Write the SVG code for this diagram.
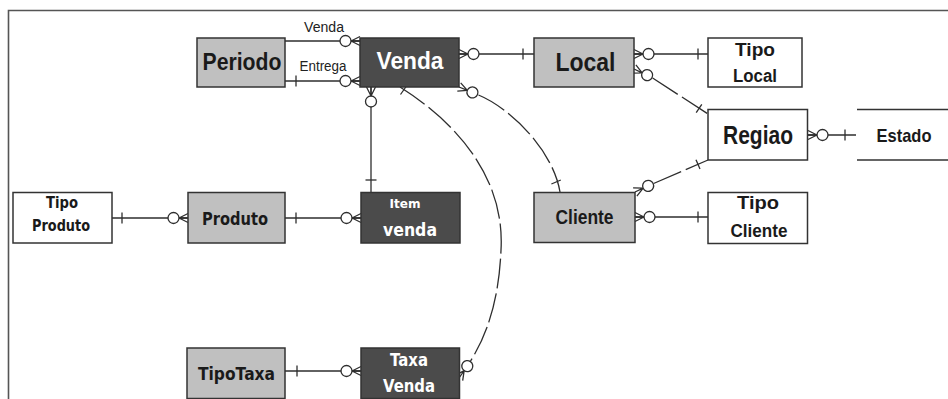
<svg xmlns="http://www.w3.org/2000/svg" xmlns:xlink="http://www.w3.org/1999/xlink" width="948" height="399" viewBox="0 0 948 399">
  <style>
    .frame { stroke: #555; stroke-width: 1.6; fill: none; }
    .ent rect { stroke: #333; stroke-width: 1.5; }
    .lt { fill: #c0c0c0; }
    .dk { fill: #4b4b4b; }
    .wh { fill: #fff; }
    text { font-family: "Liberation Sans", Arial, sans-serif; font-weight: bold; text-anchor: middle; fill: #1a1a1a; }
    text.inv { fill: #fff; }
    text.tah { font-family: "DejaVu Sans", Verdana, sans-serif; }
    text.lbl { font-weight: normal; font-size: 14px; fill: #222; }
    .rel path, .rel line, .rel use { fill: none; stroke: #2e2e2e; stroke-width: 1.3; }
    .rel circle { fill: #fff; stroke: #2e2e2e; stroke-width: 1.3; }
    .dash { stroke-dasharray: 30 5; }
  </style>
  <defs>
    <!-- "zero or many" end: crow's foot at the entity edge (origin), ring beyond it, pointing along +x -->
    <g id="cf">
      <path d="M0,-4.5 L9,0 M0,4.5 L9,0 M0,0 H9" fill="none" stroke="#2e2e2e" stroke-width="1.3"/>
      <circle cx="14.5" cy="0" r="5.5" fill="#fff" stroke="#2e2e2e" stroke-width="1.3"/>
    </g>
    <!-- "exactly one" bar -->
    <path id="tk" d="M0,-5.5 V5.5" stroke="#2e2e2e" stroke-width="1.3"/>
  </defs>

  <!-- outer border -->
  <path class="frame" d="M8.5,399 V10.5 H948"/>

  <!-- relationships -->
  <g id="connectors" class="rel">
    <!-- Periodo - Venda (Venda) -->
    <path d="M285,41 H360"/>
    <use xlink:href="#cf" transform="translate(360,41) rotate(180)"/>
    <!-- Periodo - Venda (Entrega) -->
    <path d="M285,81 H360"/>
    <use xlink:href="#tk" transform="translate(296,81)"/>
    <use xlink:href="#cf" transform="translate(360,81) rotate(180)"/>
    <!-- Venda - Local -->
    <path d="M459,54 H534"/>
    <use xlink:href="#cf" transform="translate(459,54)"/>
    <use xlink:href="#tk" transform="translate(523,54)"/>
    <!-- Venda - Item venda -->
    <path d="M371,87 V192"/>
    <use xlink:href="#cf" transform="translate(371,87) rotate(90)"/>
    <use xlink:href="#tk" transform="translate(371,180) rotate(90)"/>
    <!-- Venda - Cliente -->
    <path class="dash" d="M478.5,95 C510,108 553,150 560,192"/>
    <use xlink:href="#cf" transform="translate(459,87) rotate(22)"/>
    <line x1="551.4" y1="184" x2="560.8" y2="180"/>
    <!-- Venda - Taxa Venda -->
    <path class="dash" d="M400,87 C460,125 505,180 501,250 C499,300 487,335 470.5,361"/>
    <line x1="406.5" y1="86" x2="400.5" y2="94.5"/>
    <use xlink:href="#cf" transform="translate(459,378) rotate(-55)"/>
    <!-- Local - Tipo Local -->
    <path d="M634,54 H708"/>
    <use xlink:href="#cf" transform="translate(634,54)"/>
    <use xlink:href="#tk" transform="translate(698,54)"/>
    <!-- Local - Regiao -->
    <path class="dash" d="M652.6,78 L708,114"/>
    <use xlink:href="#cf" transform="translate(634,69) rotate(25)"/>
    <line x1="696.2" y1="112.7" x2="701.8" y2="104.3"/>
    <!-- Cliente - Regiao -->
    <path class="dash" d="M653.6,183.5 L708,160"/>
    <use xlink:href="#cf" transform="translate(635,192) rotate(-25)"/>
    <line x1="696" y1="159.7" x2="700" y2="168.9"/>
    <!-- Cliente - Tipo Cliente -->
    <path d="M635,217 H708"/>
    <use xlink:href="#cf" transform="translate(635,217)"/>
    <use xlink:href="#tk" transform="translate(698,217)"/>
    <!-- Regiao - Estado -->
    <path d="M808,135 H856"/>
    <use xlink:href="#cf" transform="translate(808,135)"/>
    <use xlink:href="#tk" transform="translate(845,135)"/>
    <!-- Tipo Produto - Produto -->
    <path d="M112,218 H188"/>
    <use xlink:href="#tk" transform="translate(122,218)"/>
    <use xlink:href="#cf" transform="translate(188,218) rotate(180)"/>
    <!-- Produto - Item venda -->
    <path d="M285,218 H361"/>
    <use xlink:href="#tk" transform="translate(296,218)"/>
    <use xlink:href="#cf" transform="translate(361,218) rotate(180)"/>
    <!-- TipoTaxa - Taxa Venda -->
    <path d="M285,371 H361"/>
    <use xlink:href="#tk" transform="translate(297,371)"/>
    <use xlink:href="#cf" transform="translate(361,371) rotate(180)"/>

    <text class="lbl" x="324" y="32" textLength="40" lengthAdjust="spacingAndGlyphs">Venda</text>
    <text class="lbl" x="323" y="71" textLength="47" lengthAdjust="spacingAndGlyphs">Entrega</text>
  </g>

  <!-- entities -->
  <g id="periodo" class="ent">
    <rect class="lt" x="197" y="38" width="88" height="49"/>
    <text x="242" y="70" font-size="24" textLength="79" lengthAdjust="spacingAndGlyphs">Periodo</text>
  </g>
  <g id="venda" class="ent">
    <rect class="dk" x="360" y="38" width="99" height="49"/>
    <text class="inv" x="410" y="69" font-size="24" textLength="67" lengthAdjust="spacingAndGlyphs">Venda</text>
  </g>
  <g id="local" class="ent">
    <rect class="lt" x="534" y="38" width="100" height="49"/>
    <text x="585.5" y="70.5" font-size="25" textLength="60" lengthAdjust="spacingAndGlyphs">Local</text>
  </g>
  <g id="tipo-local" class="ent">
    <rect class="wh" x="708" y="38" width="94" height="49"/>
    <text x="755" y="55.5" font-size="18" textLength="40" lengthAdjust="spacingAndGlyphs">Tipo</text>
    <text x="755" y="81.5" font-size="18" textLength="44" lengthAdjust="spacingAndGlyphs">Local</text>
  </g>
  <g id="regiao" class="ent">
    <rect class="wh" x="708" y="109.5" width="99.5" height="50.5"/>
    <text x="758" y="144" font-size="25" textLength="70" lengthAdjust="spacingAndGlyphs">Regiao</text>
  </g>
  <g id="estado" class="ent">
    <path d="M857,109.5 H948 M857,160 H948" stroke="#333" stroke-width="1.5" fill="none"/>
    <text x="904" y="142" font-size="19" textLength="55" lengthAdjust="spacingAndGlyphs">Estado</text>
  </g>
  <g id="tipo-cliente" class="ent">
    <rect class="wh" x="708" y="192.5" width="99.5" height="51"/>
    <text x="758" y="209" font-size="19" textLength="42" lengthAdjust="spacingAndGlyphs">Tipo</text>
    <text x="759" y="237" font-size="19" textLength="57" lengthAdjust="spacingAndGlyphs">Cliente</text>
  </g>
  <g id="cliente" class="ent">
    <rect class="lt" x="534" y="192.5" width="101" height="50"/>
    <text x="584.5" y="224" font-size="20" textLength="58" lengthAdjust="spacingAndGlyphs">Cliente</text>
  </g>
  <g id="tipo-produto" class="ent">
    <rect class="wh" x="13" y="192.5" width="99" height="50.5"/>
    <text class="tah" x="62" y="208" font-size="15" textLength="32" lengthAdjust="spacingAndGlyphs">Tipo</text>
    <text class="tah" x="61" y="231" font-size="16" textLength="58" lengthAdjust="spacingAndGlyphs">Produto</text>
  </g>
  <g id="produto" class="ent">
    <rect class="lt" x="188" y="192.5" width="97" height="50.5"/>
    <text class="tah" x="235" y="225" font-size="18" textLength="66" lengthAdjust="spacingAndGlyphs">Produto</text>
  </g>
  <g id="item-venda" class="ent">
    <rect class="dk" x="361" y="192.5" width="99" height="50.5"/>
    <text class="inv tah" x="405" y="208" font-size="13" textLength="31" lengthAdjust="spacingAndGlyphs">Item</text>
    <text class="inv tah" x="410" y="236" font-size="18" textLength="54" lengthAdjust="spacingAndGlyphs">venda</text>
  </g>
  <g id="tipotaxa" class="ent">
    <rect class="lt" x="187" y="348" width="98" height="50.5"/>
    <text class="tah" x="236.5" y="380" font-size="18" textLength="77" lengthAdjust="spacingAndGlyphs">TipoTaxa</text>
  </g>
  <g id="taxa-venda" class="ent">
    <rect class="dk" x="361" y="348" width="98.5" height="50.5"/>
    <text class="inv tah" x="409" y="366" font-size="17" textLength="38" lengthAdjust="spacingAndGlyphs">Taxa</text>
    <text class="inv tah" x="409" y="392" font-size="17" textLength="52" lengthAdjust="spacingAndGlyphs">Venda</text>
  </g>
</svg>
